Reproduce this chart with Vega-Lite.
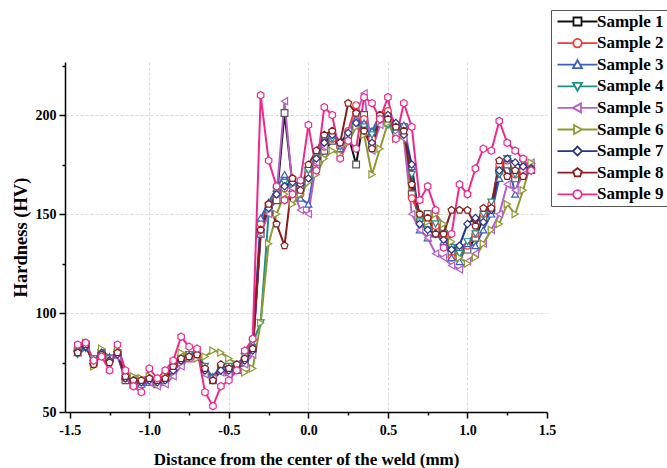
{
"$schema": "https://vega.github.io/schema/vega-lite/v6.json",
"width": 482, "height": 350,
"autosize": "none",
"padding": {"left": 65, "top": 62, "right": 120, "bottom": 56},
"background": "white",
"config": {"view": {"stroke": null}, "font": "Liberation Serif"},
"data": {"values": [
{"s":"Sample 1","d":-1.45,"hv":81},{"s":"Sample 1","d":-1.4,"hv":84},{"s":"Sample 1","d":-1.35,"hv":75},{"s":"Sample 1","d":-1.3,"hv":80},{"s":"Sample 1","d":-1.25,"hv":77},{"s":"Sample 1","d":-1.2,"hv":79},{"s":"Sample 1","d":-1.15,"hv":66},{"s":"Sample 1","d":-1.1,"hv":64},{"s":"Sample 1","d":-1.05,"hv":65},{"s":"Sample 1","d":-1,"hv":66},{"s":"Sample 1","d":-0.95,"hv":64},{"s":"Sample 1","d":-0.9,"hv":66},{"s":"Sample 1","d":-0.85,"hv":71},{"s":"Sample 1","d":-0.8,"hv":75},{"s":"Sample 1","d":-0.75,"hv":78},{"s":"Sample 1","d":-0.7,"hv":79},{"s":"Sample 1","d":-0.65,"hv":70},{"s":"Sample 1","d":-0.6,"hv":66},{"s":"Sample 1","d":-0.55,"hv":72},{"s":"Sample 1","d":-0.5,"hv":70},{"s":"Sample 1","d":-0.45,"hv":72},{"s":"Sample 1","d":-0.4,"hv":75},{"s":"Sample 1","d":-0.35,"hv":82},{"s":"Sample 1","d":-0.3,"hv":140},{"s":"Sample 1","d":-0.25,"hv":152},{"s":"Sample 1","d":-0.2,"hv":157},{"s":"Sample 1","d":-0.15,"hv":201},{"s":"Sample 1","d":-0.1,"hv":165},{"s":"Sample 1","d":-0.05,"hv":163},{"s":"Sample 1","d":0,"hv":172},{"s":"Sample 1","d":0.05,"hv":174},{"s":"Sample 1","d":0.1,"hv":182},{"s":"Sample 1","d":0.15,"hv":187},{"s":"Sample 1","d":0.2,"hv":185},{"s":"Sample 1","d":0.25,"hv":190},{"s":"Sample 1","d":0.3,"hv":175},{"s":"Sample 1","d":0.35,"hv":200},{"s":"Sample 1","d":0.4,"hv":185},{"s":"Sample 1","d":0.45,"hv":197},{"s":"Sample 1","d":0.5,"hv":198},{"s":"Sample 1","d":0.55,"hv":192},{"s":"Sample 1","d":0.6,"hv":194},{"s":"Sample 1","d":0.65,"hv":160},{"s":"Sample 1","d":0.7,"hv":148},{"s":"Sample 1","d":0.75,"hv":150},{"s":"Sample 1","d":0.8,"hv":142},{"s":"Sample 1","d":0.85,"hv":139},{"s":"Sample 1","d":0.9,"hv":130},{"s":"Sample 1","d":0.95,"hv":133},{"s":"Sample 1","d":1,"hv":132},{"s":"Sample 1","d":1.05,"hv":138},{"s":"Sample 1","d":1.1,"hv":148},{"s":"Sample 1","d":1.15,"hv":152},{"s":"Sample 1","d":1.2,"hv":172},{"s":"Sample 1","d":1.25,"hv":175},{"s":"Sample 1","d":1.3,"hv":168},{"s":"Sample 1","d":1.35,"hv":170},{"s":"Sample 1","d":1.4,"hv":174},
{"s":"Sample 2","d":-1.45,"hv":82},{"s":"Sample 2","d":-1.4,"hv":85},{"s":"Sample 2","d":-1.35,"hv":74},{"s":"Sample 2","d":-1.3,"hv":79},{"s":"Sample 2","d":-1.25,"hv":76},{"s":"Sample 2","d":-1.2,"hv":80},{"s":"Sample 2","d":-1.15,"hv":67},{"s":"Sample 2","d":-1.1,"hv":65},{"s":"Sample 2","d":-1.05,"hv":66},{"s":"Sample 2","d":-1,"hv":67},{"s":"Sample 2","d":-0.95,"hv":65},{"s":"Sample 2","d":-0.9,"hv":67},{"s":"Sample 2","d":-0.85,"hv":72},{"s":"Sample 2","d":-0.8,"hv":76},{"s":"Sample 2","d":-0.75,"hv":77},{"s":"Sample 2","d":-0.7,"hv":78},{"s":"Sample 2","d":-0.65,"hv":71},{"s":"Sample 2","d":-0.6,"hv":67},{"s":"Sample 2","d":-0.55,"hv":71},{"s":"Sample 2","d":-0.5,"hv":71},{"s":"Sample 2","d":-0.45,"hv":73},{"s":"Sample 2","d":-0.4,"hv":76},{"s":"Sample 2","d":-0.35,"hv":83},{"s":"Sample 2","d":-0.3,"hv":145},{"s":"Sample 2","d":-0.25,"hv":155},{"s":"Sample 2","d":-0.2,"hv":160},{"s":"Sample 2","d":-0.15,"hv":163},{"s":"Sample 2","d":-0.1,"hv":168},{"s":"Sample 2","d":-0.05,"hv":160},{"s":"Sample 2","d":0,"hv":170},{"s":"Sample 2","d":0.05,"hv":176},{"s":"Sample 2","d":0.1,"hv":184},{"s":"Sample 2","d":0.15,"hv":188},{"s":"Sample 2","d":0.2,"hv":184},{"s":"Sample 2","d":0.25,"hv":192},{"s":"Sample 2","d":0.3,"hv":205},{"s":"Sample 2","d":0.35,"hv":198},{"s":"Sample 2","d":0.4,"hv":188},{"s":"Sample 2","d":0.45,"hv":200},{"s":"Sample 2","d":0.5,"hv":202},{"s":"Sample 2","d":0.55,"hv":195},{"s":"Sample 2","d":0.6,"hv":190},{"s":"Sample 2","d":0.65,"hv":158},{"s":"Sample 2","d":0.7,"hv":150},{"s":"Sample 2","d":0.75,"hv":148},{"s":"Sample 2","d":0.8,"hv":144},{"s":"Sample 2","d":0.85,"hv":138},{"s":"Sample 2","d":0.9,"hv":128},{"s":"Sample 2","d":0.95,"hv":131},{"s":"Sample 2","d":1,"hv":134},{"s":"Sample 2","d":1.05,"hv":140},{"s":"Sample 2","d":1.1,"hv":150},{"s":"Sample 2","d":1.15,"hv":155},{"s":"Sample 2","d":1.2,"hv":175},{"s":"Sample 2","d":1.25,"hv":177},{"s":"Sample 2","d":1.3,"hv":170},{"s":"Sample 2","d":1.35,"hv":172},{"s":"Sample 2","d":1.4,"hv":175},
{"s":"Sample 3","d":-1.45,"hv":80},{"s":"Sample 3","d":-1.4,"hv":83},{"s":"Sample 3","d":-1.35,"hv":76},{"s":"Sample 3","d":-1.3,"hv":81},{"s":"Sample 3","d":-1.25,"hv":78},{"s":"Sample 3","d":-1.2,"hv":79},{"s":"Sample 3","d":-1.15,"hv":68},{"s":"Sample 3","d":-1.1,"hv":66},{"s":"Sample 3","d":-1.05,"hv":64},{"s":"Sample 3","d":-1,"hv":65},{"s":"Sample 3","d":-0.95,"hv":66},{"s":"Sample 3","d":-0.9,"hv":67},{"s":"Sample 3","d":-0.85,"hv":73},{"s":"Sample 3","d":-0.8,"hv":77},{"s":"Sample 3","d":-0.75,"hv":79},{"s":"Sample 3","d":-0.7,"hv":78},{"s":"Sample 3","d":-0.65,"hv":72},{"s":"Sample 3","d":-0.6,"hv":68},{"s":"Sample 3","d":-0.55,"hv":73},{"s":"Sample 3","d":-0.5,"hv":72},{"s":"Sample 3","d":-0.45,"hv":71},{"s":"Sample 3","d":-0.4,"hv":76},{"s":"Sample 3","d":-0.35,"hv":84},{"s":"Sample 3","d":-0.3,"hv":148},{"s":"Sample 3","d":-0.25,"hv":156},{"s":"Sample 3","d":-0.2,"hv":163},{"s":"Sample 3","d":-0.15,"hv":170},{"s":"Sample 3","d":-0.1,"hv":163},{"s":"Sample 3","d":-0.05,"hv":158},{"s":"Sample 3","d":0,"hv":155},{"s":"Sample 3","d":0.05,"hv":178},{"s":"Sample 3","d":0.1,"hv":185},{"s":"Sample 3","d":0.15,"hv":190},{"s":"Sample 3","d":0.2,"hv":183},{"s":"Sample 3","d":0.25,"hv":188},{"s":"Sample 3","d":0.3,"hv":198},{"s":"Sample 3","d":0.35,"hv":196},{"s":"Sample 3","d":0.4,"hv":192},{"s":"Sample 3","d":0.45,"hv":200},{"s":"Sample 3","d":0.5,"hv":196},{"s":"Sample 3","d":0.55,"hv":193},{"s":"Sample 3","d":0.6,"hv":195},{"s":"Sample 3","d":0.65,"hv":174},{"s":"Sample 3","d":0.7,"hv":142},{"s":"Sample 3","d":0.75,"hv":138},{"s":"Sample 3","d":0.8,"hv":140},{"s":"Sample 3","d":0.85,"hv":136},{"s":"Sample 3","d":0.9,"hv":128},{"s":"Sample 3","d":0.95,"hv":126},{"s":"Sample 3","d":1,"hv":135},{"s":"Sample 3","d":1.05,"hv":134},{"s":"Sample 3","d":1.1,"hv":142},{"s":"Sample 3","d":1.15,"hv":150},{"s":"Sample 3","d":1.2,"hv":168},{"s":"Sample 3","d":1.25,"hv":178},{"s":"Sample 3","d":1.3,"hv":160},{"s":"Sample 3","d":1.35,"hv":175},{"s":"Sample 3","d":1.4,"hv":172},
{"s":"Sample 4","d":-1.45,"hv":79},{"s":"Sample 4","d":-1.4,"hv":82},{"s":"Sample 4","d":-1.35,"hv":77},{"s":"Sample 4","d":-1.3,"hv":80},{"s":"Sample 4","d":-1.25,"hv":77},{"s":"Sample 4","d":-1.2,"hv":80},{"s":"Sample 4","d":-1.15,"hv":68},{"s":"Sample 4","d":-1.1,"hv":67},{"s":"Sample 4","d":-1.05,"hv":65},{"s":"Sample 4","d":-1,"hv":66},{"s":"Sample 4","d":-0.95,"hv":64},{"s":"Sample 4","d":-0.9,"hv":66},{"s":"Sample 4","d":-0.85,"hv":72},{"s":"Sample 4","d":-0.8,"hv":77},{"s":"Sample 4","d":-0.75,"hv":79},{"s":"Sample 4","d":-0.7,"hv":80},{"s":"Sample 4","d":-0.65,"hv":73},{"s":"Sample 4","d":-0.6,"hv":67},{"s":"Sample 4","d":-0.55,"hv":72},{"s":"Sample 4","d":-0.5,"hv":73},{"s":"Sample 4","d":-0.45,"hv":74},{"s":"Sample 4","d":-0.4,"hv":78},{"s":"Sample 4","d":-0.35,"hv":85},{"s":"Sample 4","d":-0.3,"hv":95},{"s":"Sample 4","d":-0.25,"hv":150},{"s":"Sample 4","d":-0.2,"hv":162},{"s":"Sample 4","d":-0.15,"hv":166},{"s":"Sample 4","d":-0.1,"hv":164},{"s":"Sample 4","d":-0.05,"hv":160},{"s":"Sample 4","d":0,"hv":172},{"s":"Sample 4","d":0.05,"hv":180},{"s":"Sample 4","d":0.1,"hv":188},{"s":"Sample 4","d":0.15,"hv":188},{"s":"Sample 4","d":0.2,"hv":184},{"s":"Sample 4","d":0.25,"hv":190},{"s":"Sample 4","d":0.3,"hv":200},{"s":"Sample 4","d":0.35,"hv":194},{"s":"Sample 4","d":0.4,"hv":190},{"s":"Sample 4","d":0.45,"hv":199},{"s":"Sample 4","d":0.5,"hv":195},{"s":"Sample 4","d":0.55,"hv":191},{"s":"Sample 4","d":0.6,"hv":192},{"s":"Sample 4","d":0.65,"hv":170},{"s":"Sample 4","d":0.7,"hv":146},{"s":"Sample 4","d":0.75,"hv":142},{"s":"Sample 4","d":0.8,"hv":145},{"s":"Sample 4","d":0.85,"hv":140},{"s":"Sample 4","d":0.9,"hv":133},{"s":"Sample 4","d":0.95,"hv":130},{"s":"Sample 4","d":1,"hv":136},{"s":"Sample 4","d":1.05,"hv":140},{"s":"Sample 4","d":1.1,"hv":150},{"s":"Sample 4","d":1.15,"hv":156},{"s":"Sample 4","d":1.2,"hv":170},{"s":"Sample 4","d":1.25,"hv":178},{"s":"Sample 4","d":1.3,"hv":170},{"s":"Sample 4","d":1.35,"hv":176},{"s":"Sample 4","d":1.4,"hv":174},
{"s":"Sample 5","d":-1.45,"hv":80},{"s":"Sample 5","d":-1.4,"hv":83},{"s":"Sample 5","d":-1.35,"hv":75},{"s":"Sample 5","d":-1.3,"hv":79},{"s":"Sample 5","d":-1.25,"hv":77},{"s":"Sample 5","d":-1.2,"hv":78},{"s":"Sample 5","d":-1.15,"hv":67},{"s":"Sample 5","d":-1.1,"hv":66},{"s":"Sample 5","d":-1.05,"hv":66},{"s":"Sample 5","d":-1,"hv":65},{"s":"Sample 5","d":-0.95,"hv":63},{"s":"Sample 5","d":-0.9,"hv":64},{"s":"Sample 5","d":-0.85,"hv":68},{"s":"Sample 5","d":-0.8,"hv":73},{"s":"Sample 5","d":-0.75,"hv":77},{"s":"Sample 5","d":-0.7,"hv":81},{"s":"Sample 5","d":-0.65,"hv":69},{"s":"Sample 5","d":-0.6,"hv":67},{"s":"Sample 5","d":-0.55,"hv":70},{"s":"Sample 5","d":-0.5,"hv":69},{"s":"Sample 5","d":-0.45,"hv":72},{"s":"Sample 5","d":-0.4,"hv":74},{"s":"Sample 5","d":-0.35,"hv":79},{"s":"Sample 5","d":-0.3,"hv":140},{"s":"Sample 5","d":-0.25,"hv":150},{"s":"Sample 5","d":-0.2,"hv":160},{"s":"Sample 5","d":-0.15,"hv":207},{"s":"Sample 5","d":-0.1,"hv":163},{"s":"Sample 5","d":-0.05,"hv":152},{"s":"Sample 5","d":0,"hv":150},{"s":"Sample 5","d":0.05,"hv":176},{"s":"Sample 5","d":0.1,"hv":184},{"s":"Sample 5","d":0.15,"hv":192},{"s":"Sample 5","d":0.2,"hv":185},{"s":"Sample 5","d":0.25,"hv":192},{"s":"Sample 5","d":0.3,"hv":200},{"s":"Sample 5","d":0.35,"hv":211},{"s":"Sample 5","d":0.4,"hv":182},{"s":"Sample 5","d":0.45,"hv":195},{"s":"Sample 5","d":0.5,"hv":198},{"s":"Sample 5","d":0.55,"hv":190},{"s":"Sample 5","d":0.6,"hv":188},{"s":"Sample 5","d":0.65,"hv":150},{"s":"Sample 5","d":0.7,"hv":142},{"s":"Sample 5","d":0.75,"hv":138},{"s":"Sample 5","d":0.8,"hv":130},{"s":"Sample 5","d":0.85,"hv":128},{"s":"Sample 5","d":0.9,"hv":124},{"s":"Sample 5","d":0.95,"hv":122},{"s":"Sample 5","d":1,"hv":126},{"s":"Sample 5","d":1.05,"hv":130},{"s":"Sample 5","d":1.1,"hv":135},{"s":"Sample 5","d":1.15,"hv":142},{"s":"Sample 5","d":1.2,"hv":150},{"s":"Sample 5","d":1.25,"hv":165},{"s":"Sample 5","d":1.3,"hv":162},{"s":"Sample 5","d":1.35,"hv":170},{"s":"Sample 5","d":1.4,"hv":176},
{"s":"Sample 6","d":-1.45,"hv":82},{"s":"Sample 6","d":-1.4,"hv":85},{"s":"Sample 6","d":-1.35,"hv":73},{"s":"Sample 6","d":-1.3,"hv":82},{"s":"Sample 6","d":-1.25,"hv":76},{"s":"Sample 6","d":-1.2,"hv":81},{"s":"Sample 6","d":-1.15,"hv":69},{"s":"Sample 6","d":-1.1,"hv":68},{"s":"Sample 6","d":-1.05,"hv":67},{"s":"Sample 6","d":-1,"hv":68},{"s":"Sample 6","d":-0.95,"hv":65},{"s":"Sample 6","d":-0.9,"hv":68},{"s":"Sample 6","d":-0.85,"hv":74},{"s":"Sample 6","d":-0.8,"hv":80},{"s":"Sample 6","d":-0.75,"hv":78},{"s":"Sample 6","d":-0.7,"hv":77},{"s":"Sample 6","d":-0.65,"hv":78},{"s":"Sample 6","d":-0.6,"hv":81},{"s":"Sample 6","d":-0.55,"hv":80},{"s":"Sample 6","d":-0.5,"hv":77},{"s":"Sample 6","d":-0.45,"hv":74},{"s":"Sample 6","d":-0.4,"hv":70},{"s":"Sample 6","d":-0.35,"hv":72},{"s":"Sample 6","d":-0.3,"hv":95},{"s":"Sample 6","d":-0.25,"hv":135},{"s":"Sample 6","d":-0.2,"hv":150},{"s":"Sample 6","d":-0.15,"hv":160},{"s":"Sample 6","d":-0.1,"hv":155},{"s":"Sample 6","d":-0.05,"hv":160},{"s":"Sample 6","d":0,"hv":166},{"s":"Sample 6","d":0.05,"hv":170},{"s":"Sample 6","d":0.1,"hv":178},{"s":"Sample 6","d":0.15,"hv":182},{"s":"Sample 6","d":0.2,"hv":180},{"s":"Sample 6","d":0.25,"hv":186},{"s":"Sample 6","d":0.3,"hv":194},{"s":"Sample 6","d":0.35,"hv":190},{"s":"Sample 6","d":0.4,"hv":170},{"s":"Sample 6","d":0.45,"hv":183},{"s":"Sample 6","d":0.5,"hv":196},{"s":"Sample 6","d":0.55,"hv":188},{"s":"Sample 6","d":0.6,"hv":190},{"s":"Sample 6","d":0.65,"hv":165},{"s":"Sample 6","d":0.7,"hv":150},{"s":"Sample 6","d":0.75,"hv":146},{"s":"Sample 6","d":0.8,"hv":150},{"s":"Sample 6","d":0.85,"hv":145},{"s":"Sample 6","d":0.9,"hv":136},{"s":"Sample 6","d":0.95,"hv":128},{"s":"Sample 6","d":1,"hv":125},{"s":"Sample 6","d":1.05,"hv":128},{"s":"Sample 6","d":1.1,"hv":135},{"s":"Sample 6","d":1.15,"hv":142},{"s":"Sample 6","d":1.2,"hv":145},{"s":"Sample 6","d":1.25,"hv":155},{"s":"Sample 6","d":1.3,"hv":150},{"s":"Sample 6","d":1.35,"hv":162},{"s":"Sample 6","d":1.4,"hv":176},
{"s":"Sample 7","d":-1.45,"hv":81},{"s":"Sample 7","d":-1.4,"hv":83},{"s":"Sample 7","d":-1.35,"hv":76},{"s":"Sample 7","d":-1.3,"hv":80},{"s":"Sample 7","d":-1.25,"hv":76},{"s":"Sample 7","d":-1.2,"hv":79},{"s":"Sample 7","d":-1.15,"hv":67},{"s":"Sample 7","d":-1.1,"hv":66},{"s":"Sample 7","d":-1.05,"hv":65},{"s":"Sample 7","d":-1,"hv":66},{"s":"Sample 7","d":-0.95,"hv":65},{"s":"Sample 7","d":-0.9,"hv":66},{"s":"Sample 7","d":-0.85,"hv":71},{"s":"Sample 7","d":-0.8,"hv":76},{"s":"Sample 7","d":-0.75,"hv":78},{"s":"Sample 7","d":-0.7,"hv":79},{"s":"Sample 7","d":-0.65,"hv":71},{"s":"Sample 7","d":-0.6,"hv":66},{"s":"Sample 7","d":-0.55,"hv":71},{"s":"Sample 7","d":-0.5,"hv":71},{"s":"Sample 7","d":-0.45,"hv":73},{"s":"Sample 7","d":-0.4,"hv":76},{"s":"Sample 7","d":-0.35,"hv":81},{"s":"Sample 7","d":-0.3,"hv":142},{"s":"Sample 7","d":-0.25,"hv":153},{"s":"Sample 7","d":-0.2,"hv":160},{"s":"Sample 7","d":-0.15,"hv":164},{"s":"Sample 7","d":-0.1,"hv":166},{"s":"Sample 7","d":-0.05,"hv":165},{"s":"Sample 7","d":0,"hv":168},{"s":"Sample 7","d":0.05,"hv":178},{"s":"Sample 7","d":0.1,"hv":186},{"s":"Sample 7","d":0.15,"hv":190},{"s":"Sample 7","d":0.2,"hv":186},{"s":"Sample 7","d":0.25,"hv":191},{"s":"Sample 7","d":0.3,"hv":196},{"s":"Sample 7","d":0.35,"hv":192},{"s":"Sample 7","d":0.4,"hv":186},{"s":"Sample 7","d":0.45,"hv":198},{"s":"Sample 7","d":0.5,"hv":200},{"s":"Sample 7","d":0.55,"hv":196},{"s":"Sample 7","d":0.6,"hv":190},{"s":"Sample 7","d":0.65,"hv":175},{"s":"Sample 7","d":0.7,"hv":145},{"s":"Sample 7","d":0.75,"hv":142},{"s":"Sample 7","d":0.8,"hv":140},{"s":"Sample 7","d":0.85,"hv":137},{"s":"Sample 7","d":0.9,"hv":132},{"s":"Sample 7","d":0.95,"hv":134},{"s":"Sample 7","d":1,"hv":145},{"s":"Sample 7","d":1.05,"hv":148},{"s":"Sample 7","d":1.1,"hv":146},{"s":"Sample 7","d":1.15,"hv":152},{"s":"Sample 7","d":1.2,"hv":172},{"s":"Sample 7","d":1.25,"hv":178},{"s":"Sample 7","d":1.3,"hv":176},{"s":"Sample 7","d":1.35,"hv":174},{"s":"Sample 7","d":1.4,"hv":173},
{"s":"Sample 8","d":-1.45,"hv":80},{"s":"Sample 8","d":-1.4,"hv":84},{"s":"Sample 8","d":-1.35,"hv":74},{"s":"Sample 8","d":-1.3,"hv":79},{"s":"Sample 8","d":-1.25,"hv":75},{"s":"Sample 8","d":-1.2,"hv":80},{"s":"Sample 8","d":-1.15,"hv":68},{"s":"Sample 8","d":-1.1,"hv":66},{"s":"Sample 8","d":-1.05,"hv":66},{"s":"Sample 8","d":-1,"hv":67},{"s":"Sample 8","d":-0.95,"hv":66},{"s":"Sample 8","d":-0.9,"hv":67},{"s":"Sample 8","d":-0.85,"hv":73},{"s":"Sample 8","d":-0.8,"hv":77},{"s":"Sample 8","d":-0.75,"hv":78},{"s":"Sample 8","d":-0.7,"hv":79},{"s":"Sample 8","d":-0.65,"hv":72},{"s":"Sample 8","d":-0.6,"hv":66},{"s":"Sample 8","d":-0.55,"hv":74},{"s":"Sample 8","d":-0.5,"hv":72},{"s":"Sample 8","d":-0.45,"hv":74},{"s":"Sample 8","d":-0.4,"hv":77},{"s":"Sample 8","d":-0.35,"hv":82},{"s":"Sample 8","d":-0.3,"hv":142},{"s":"Sample 8","d":-0.25,"hv":155},{"s":"Sample 8","d":-0.2,"hv":145},{"s":"Sample 8","d":-0.15,"hv":134},{"s":"Sample 8","d":-0.1,"hv":168},{"s":"Sample 8","d":-0.05,"hv":162},{"s":"Sample 8","d":0,"hv":175},{"s":"Sample 8","d":0.05,"hv":182},{"s":"Sample 8","d":0.1,"hv":190},{"s":"Sample 8","d":0.15,"hv":192},{"s":"Sample 8","d":0.2,"hv":186},{"s":"Sample 8","d":0.25,"hv":206},{"s":"Sample 8","d":0.3,"hv":201},{"s":"Sample 8","d":0.35,"hv":192},{"s":"Sample 8","d":0.4,"hv":183},{"s":"Sample 8","d":0.45,"hv":200},{"s":"Sample 8","d":0.5,"hv":198},{"s":"Sample 8","d":0.55,"hv":194},{"s":"Sample 8","d":0.6,"hv":192},{"s":"Sample 8","d":0.65,"hv":165},{"s":"Sample 8","d":0.7,"hv":150},{"s":"Sample 8","d":0.75,"hv":148},{"s":"Sample 8","d":0.8,"hv":140},{"s":"Sample 8","d":0.85,"hv":140},{"s":"Sample 8","d":0.9,"hv":152},{"s":"Sample 8","d":0.95,"hv":152},{"s":"Sample 8","d":1,"hv":152},{"s":"Sample 8","d":1.05,"hv":144},{"s":"Sample 8","d":1.1,"hv":153},{"s":"Sample 8","d":1.15,"hv":153},{"s":"Sample 8","d":1.2,"hv":177},{"s":"Sample 8","d":1.25,"hv":169},{"s":"Sample 8","d":1.3,"hv":172},{"s":"Sample 8","d":1.35,"hv":169},{"s":"Sample 8","d":1.4,"hv":172},
{"s":"Sample 9","d":-1.45,"hv":84},{"s":"Sample 9","d":-1.4,"hv":85},{"s":"Sample 9","d":-1.35,"hv":76},{"s":"Sample 9","d":-1.3,"hv":78},{"s":"Sample 9","d":-1.25,"hv":71},{"s":"Sample 9","d":-1.2,"hv":84},{"s":"Sample 9","d":-1.15,"hv":71},{"s":"Sample 9","d":-1.1,"hv":63},{"s":"Sample 9","d":-1.05,"hv":60},{"s":"Sample 9","d":-1,"hv":72},{"s":"Sample 9","d":-0.95,"hv":67},{"s":"Sample 9","d":-0.9,"hv":71},{"s":"Sample 9","d":-0.85,"hv":76},{"s":"Sample 9","d":-0.8,"hv":88},{"s":"Sample 9","d":-0.75,"hv":83},{"s":"Sample 9","d":-0.7,"hv":82},{"s":"Sample 9","d":-0.65,"hv":60},{"s":"Sample 9","d":-0.6,"hv":53},{"s":"Sample 9","d":-0.55,"hv":63},{"s":"Sample 9","d":-0.5,"hv":66},{"s":"Sample 9","d":-0.45,"hv":71},{"s":"Sample 9","d":-0.4,"hv":81},{"s":"Sample 9","d":-0.35,"hv":87},{"s":"Sample 9","d":-0.3,"hv":210},{"s":"Sample 9","d":-0.25,"hv":177},{"s":"Sample 9","d":-0.2,"hv":164},{"s":"Sample 9","d":-0.15,"hv":157},{"s":"Sample 9","d":-0.1,"hv":160},{"s":"Sample 9","d":-0.05,"hv":167},{"s":"Sample 9","d":0,"hv":195},{"s":"Sample 9","d":0.05,"hv":172},{"s":"Sample 9","d":0.1,"hv":204},{"s":"Sample 9","d":0.15,"hv":200},{"s":"Sample 9","d":0.2,"hv":178},{"s":"Sample 9","d":0.25,"hv":187},{"s":"Sample 9","d":0.3,"hv":183},{"s":"Sample 9","d":0.35,"hv":209},{"s":"Sample 9","d":0.4,"hv":206},{"s":"Sample 9","d":0.45,"hv":198},{"s":"Sample 9","d":0.5,"hv":209},{"s":"Sample 9","d":0.55,"hv":188},{"s":"Sample 9","d":0.6,"hv":206},{"s":"Sample 9","d":0.65,"hv":194},{"s":"Sample 9","d":0.7,"hv":157},{"s":"Sample 9","d":0.75,"hv":164},{"s":"Sample 9","d":0.8,"hv":152},{"s":"Sample 9","d":0.85,"hv":133},{"s":"Sample 9","d":0.9,"hv":140},{"s":"Sample 9","d":0.95,"hv":165},{"s":"Sample 9","d":1,"hv":160},{"s":"Sample 9","d":1.05,"hv":173},{"s":"Sample 9","d":1.1,"hv":183},{"s":"Sample 9","d":1.15,"hv":182},{"s":"Sample 9","d":1.2,"hv":197},{"s":"Sample 9","d":1.25,"hv":186},{"s":"Sample 9","d":1.3,"hv":182},{"s":"Sample 9","d":1.35,"hv":178},{"s":"Sample 9","d":1.4,"hv":172}
]},
"encoding": {
  "x": {"field": "d", "type": "quantitative",
    "scale": {"domain": [-1.53, 1.5], "nice": false, "zero": false},
    "axis": {
      "values": [-1.5,-1.25,-1,-0.75,-0.5,-0.25,0,0.25,0.5,0.75,1,1.25,1.5],
      "labelExpr": "abs(datum.value*2 - round(datum.value*2)) < 0.001 ? replace(format(datum.value, '.1f'), '\u2212', '-') : ''",
      "title": "Distance from the center of the weld (mm)",
      "titleFont": "Liberation Serif", "titleFontSize": 17, "titleFontWeight": "bold", "titleColor": "black", "titlePadding": 14,
      "labelFont": "Liberation Serif", "labelFontSize": 14, "labelFontWeight": "bold", "labelColor": "black", "labelPadding": 5,
      "labelFlush": false, "labelOverlap": false,
      "domainColor": "black", "domainWidth": 1.5,
      "tickColor": "black", "tickWidth": 1.5,
      "tickSize": {"condition": {"test": "abs(datum.value*2 - round(datum.value*2)) < 0.001", "value": 6}, "value": 3},
      "grid": true, "gridColor": "#d9d9d9", "gridDash": [3, 2], "gridWidth": 1,
      "gridOpacity": {"condition": {"test": "abs(datum.value*2 - round(datum.value*2)) < 0.001 && abs(datum.value) < 1.4", "value": 1}, "value": 0}
    }},
  "y": {"field": "hv", "type": "quantitative",
    "scale": {"domain": [50, 226.8], "nice": false, "zero": false},
    "axis": {
      "values": [50,75,100,125,150,175,200,225],
      "labelExpr": "datum.value % 50 === 0 ? datum.label : ''",
      "title": "Hardness (HV)",
      "titleFont": "Liberation Serif", "titleFontSize": 18.5, "titleFontWeight": "bold", "titleColor": "black", "titlePadding": 5,
      "labelFont": "Liberation Serif", "labelFontSize": 14, "labelFontWeight": "bold", "labelColor": "black", "labelPadding": 3,
      "labelOverlap": false,
      "domainColor": "black", "domainWidth": 1.5,
      "tickColor": "black", "tickWidth": 1.5,
      "tickSize": {"condition": {"test": "datum.value % 50 === 0", "value": 6}, "value": 3},
      "grid": true, "gridColor": "#d9d9d9", "gridDash": [3, 2], "gridWidth": 1,
      "gridOpacity": {"condition": {"test": "datum.value % 50 === 0 && datum.value > 50", "value": 1}, "value": 0}
    }}
},
"layer": [
  {"mark": {"type": "line", "strokeWidth": 2},
   "encoding": {
     "color": {"field": "s", "type": "nominal",
       "scale": {"domain": ["Sample 1","Sample 2","Sample 3","Sample 4","Sample 5","Sample 6","Sample 7","Sample 8","Sample 9"],
                 "range": ["#111111","#ff3333","#3a5fbf","#1f8f8a","#b55fc7","#8e9a2f","#26348c","#8b1c1c","#f0288c"]},
       "legend": {
         "orient": "none", "legendX": 486, "legendY": -52,
         "title": null,
         "labelFont": "Liberation Serif", "labelFontWeight": "bold", "labelFontSize": 17, "labelColor": "black", "labelLimit": 300,
         "strokeColor": "#555555", "fillColor": "white", "padding": 3,
         "rowPadding": 3.6, "symbolSize": 100, "symbolStrokeWidth": 1.8,
         "symbolOffset": 15, "labelOffset": 11,
         "encode": {"symbols": {"update": {
           "fill": {"value": "white"},
           "shape": {"signal": "datum.value === 'Sample 1' ? 'M-4,0H-0.8M0.8,0H4M-0.8,-0.8H0.8V0.8H-0.8Z' : datum.value === 'Sample 2' || datum.value === 'Sample 9' ? 'M-4,0H-0.85M0.85,0H4M-0.85,0A0.85,0.85 0 1,0 0.85,0A0.85,0.85 0 1,0 -0.85,0Z' : datum.value === 'Sample 3' ? 'M-4,0H-0.5M0.5,0H4M0,-0.9L0.9,0.7H-0.9Z' : datum.value === 'Sample 4' ? 'M-4,0H-0.5M0.5,0H4M0,0.9L0.9,-0.7H-0.9Z' : datum.value === 'Sample 5' ? 'M-4,0H-0.9M0.7,0H4M-0.9,0L0.7,-0.9V0.9Z' : datum.value === 'Sample 6' ? 'M-4,0H-0.7M0.9,0H4M0.9,0L-0.7,-0.9V0.9Z' : datum.value === 'Sample 7' ? 'M-4,0H-0.9M0.9,0H4M0,-0.9L0.9,0L0,0.9L-0.9,0Z' : 'M-4,0H-0.8M0.8,0H4M0,-0.9L0.86,-0.28L0.53,0.73L-0.53,0.73L-0.86,-0.28Z'"}
         }}}
       }}
   }},
  {"transform": [{"calculate": "datum.s", "as": "marker"}],
   "mark": {"type": "point", "filled": true, "fill": "white", "strokeWidth": 1.2, "opacity": 1},
   "encoding": {
     "stroke": {"field": "marker", "type": "nominal",
       "scale": {"range": ["#555555","#ff3333","#3a5fbf","#1f8f8a","#b55fc7","#8e9a2f","#26348c","#8b1c1c","#f0288c"]},
       "legend": null},
     "shape": {"field": "marker", "type": "nominal",
       "scale": {"range": ["square","circle","triangle-up","triangle-down","triangle-left","triangle-right","diamond","M0,-1L0.951,-0.309L0.588,0.809L-0.588,0.809L-0.951,-0.309Z","M0,-1L0.866,-0.5L0.866,0.5L0,1L-0.866,0.5L-0.866,-0.5Z"]},
       "legend": null},
     "size": {"field": "marker", "type": "nominal",
       "scale": {"range": [45,55,60,60,60,60,55,60,110]},
       "legend": null}
   }}
]
}
